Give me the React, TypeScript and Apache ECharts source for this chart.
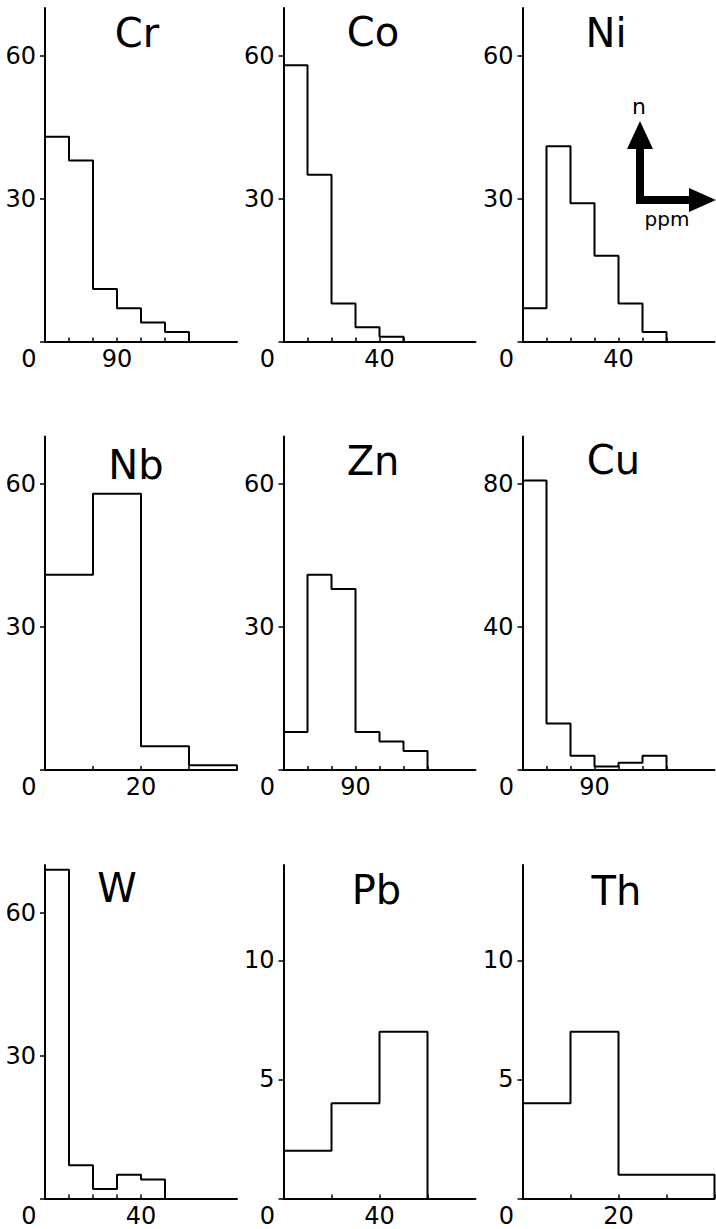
import React, { useEffect, useRef } from "react";
import * as echarts from "echarts";

// ---- data ----
const elements = ["Cr", "Co", "Ni", "Nb", "Zn", "Cu", "W", "Pb", "Th"];
const binWidths = [30, 10, 10, 10, 30, 30, 10, 20, 10];
const xMaxes = [240, 80, 80, 40, 240, 240, 80, 80, 40];
const xLabelValues = [90, 40, 40, 20, 90, 90, 40, 40, 20];
const yMaxes = [70, 70, 70, 70, 70, 93.33, 70, 14, 14];
const yIntervals = [30, 30, 30, 30, 30, 40, 30, 5, 5];
const yTickLabels = [
  [30, 60], [30, 60], [30, 60],
  [30, 60], [30, 60], [40, 80],
  [30, 60], [5, 10], [5, 10],
];
const crCounts = [43, 38, 11, 7, 4, 2];
const coCounts = [58, 35, 8, 3, 1];
const niCounts = [7, 41, 29, 18, 8, 2];
const nbCounts = [41, 58, 5, 1];
const znCounts = [8, 41, 38, 8, 6, 4];
const cuCounts = [81, 13, 4, 1, 2, 4];
const wCounts = [69, 7, 2, 5, 4];
const pbCounts = [2, 4, 7];
const thCounts = [4, 7, 1, 1];
const allCounts = [crCounts, coCounts, niCounts, nbCounts, znCounts, cuCounts, wCounts, pbCounts, thCounts];

// ---- layout ----
const colLefts = [45, 283.5, 522.5];
const rowTops = [8, 436.5, 865];
const gridW = 192;
const gridH = 333.5;
const titleOffsets = [
  [92, 25], [89.5, 24], [83.5, 25],
  [91, 28], [89.5, 24], [91, 23],
  [72, 23], [93, 25], [94, 26],
];
const FONT = "DejaVu Sans";

function buildOption() {
  const grids: any[] = [];
  const xAxes: any[] = [];
  const yAxes: any[] = [];
  const series: any[] = [];
  const graphics: any[] = [];

  elements.forEach((el, i) => {
    const r = Math.floor(i / 3);
    const c = i % 3;
    const left = colLefts[c];
    const top = rowTops[r];
    grids.push({ left, top, width: gridW, height: gridH, containLabel: false });

    const counts = allCounts[i];
    const bw = binWidths[i];
    const edges = counts.map((_, k) => k * bw);
    edges.push(counts.length * bw);
    const data = counts.map((v, k) => [k * bw, v]);
    data.push([counts.length * bw, 0]);

    xAxes.push({
      type: "value",
      gridIndex: i,
      min: 0,
      max: xMaxes[i],
      interval: bw,
      splitLine: { show: false },
      axisLine: { show: true, lineStyle: { color: "#000", width: 2 } },
      axisTick: {
        show: true,
        inside: true,
        length: 4,
        customValues: edges.slice(1),
        lineStyle: { color: "#000", width: 1.5 },
      },
      axisLabel: {
        show: true,
        customValues: [0, xLabelValues[i]],
        margin: 5,
        color: "#000",
        fontSize: 24,
        fontFamily: FONT,
        formatter: (v: number) => (v === 0 ? "{z|0}" : String(v)),
        rich: {
          z: { fontSize: 24, fontFamily: FONT, color: "#000", padding: [0, 32, 0, 0] },
        },
      },
    });
    yAxes.push({
      type: "value",
      gridIndex: i,
      min: 0,
      max: yMaxes[i],
      interval: yIntervals[i],
      splitLine: { show: false },
      axisLine: { show: true, onZero: false, lineStyle: { color: "#000", width: 2 } },
      axisTick: {
        show: true,
        length: 5,
        customValues: [0, ...yTickLabels[i]],
        lineStyle: { color: "#000", width: 1.5 },
      },
      axisLabel: {
        show: true,
        customValues: yTickLabels[i],
        margin: 9,
        color: "#000",
        fontSize: 24,
        fontFamily: FONT,
      },
    });
    series.push({
      type: "line",
      xAxisIndex: i,
      yAxisIndex: i,
      step: "end",
      symbol: "none",
      data,
      lineStyle: { color: "#000", width: 2 },
      clip: false,
    });
    graphics.push({
      type: "text",
      x: left + titleOffsets[i][0],
      y: top + titleOffsets[i][1],
      style: {
        text: el,
        fontSize: 40,
        fontFamily: FONT,
        fill: "#000",
        align: "center",
        verticalAlign: "middle",
      },
    });
  });

  // n / ppm key arrow in Ni panel
  graphics.push(
    {
      type: "polyline",
      shape: { points: [[640, 146], [640, 200], [692, 200]] },
      style: { stroke: "#000", lineWidth: 8, fill: null, lineJoin: "miter" },
    },
    {
      type: "polygon",
      shape: { points: [[627, 149], [653, 149], [640, 121]] },
      style: { fill: "#000" },
    },
    {
      type: "polygon",
      shape: { points: [[689, 188], [689, 212], [716, 200]] },
      style: { fill: "#000" },
    },
    {
      type: "text",
      x: 639,
      y: 106,
      style: { text: "n", fontSize: 22, fontFamily: FONT, fill: "#000", align: "center", verticalAlign: "middle" },
    },
    {
      type: "text",
      x: 667,
      y: 219,
      style: { text: "ppm", fontSize: 20, fontFamily: FONT, fill: "#000", align: "center", verticalAlign: "middle" },
    }
  );

  return {
    animation: false,
    backgroundColor: "#fff",
    grid: grids,
    xAxis: xAxes,
    yAxis: yAxes,
    series,
    graphic: graphics,
  };
}

export default function App() {
  const ref = useRef<HTMLDivElement>(null);
  useEffect(() => {
    document.body.style.margin = "0";
    if (!ref.current) return;
    const chart = echarts.init(ref.current, null, { renderer: "svg" });
    chart.setOption(buildOption() as any);
    return () => chart.dispose();
  }, []);
  return <div ref={ref} style={{ width: 716, height: 1229 }} />;
}
